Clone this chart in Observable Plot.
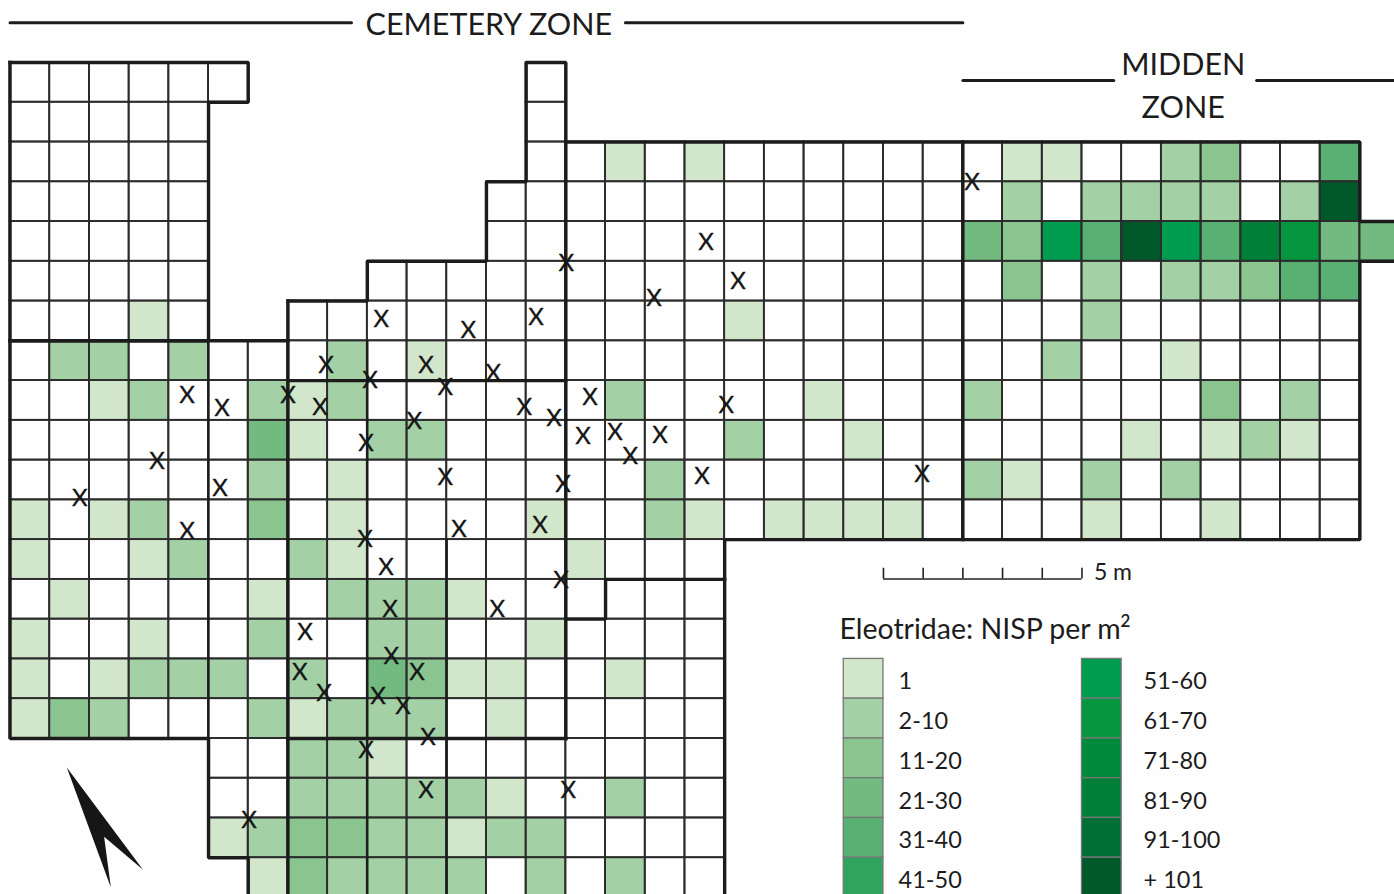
<!DOCTYPE html>
<html>
<head>
<meta charset="utf-8">
<script src="https://cdn.jsdelivr.net/npm/d3@7"></script>
<script src="https://cdn.jsdelivr.net/npm/@observablehq/plot@0.6"></script>
<style>
html,body{margin:0;padding:0;background:#fefefe;overflow:hidden}
svg{display:block}
</style>
</head>
<body>
<div id="chart"></div>
<script>
// Legend classes (NISP per m²)
const classLabels = ["1","2-10","11-20","21-30","31-40","41-50","51-60","61-70","71-80","81-90","91-100","+ 101"];
const classColors = ["#d2e6cb","#a3d0a5","#8ac48f","#72ba80","#58b072","#2fa45f","#009c50","#05963f","#008a3c","#007f38","#006f35","#00582b"];

// Excavated squares per row: [row, [startCol, endCol], ...]
const rowSpans = [
  [0,[0,6],[13,14]],[1,[0,5],[13,14]],[2,[0,5],[13,34]],[3,[0,5],[12,34]],[4,[0,5],[12,35]],
  [5,[0,5],[9,34]],[6,[0,5],[7,34]],[7,[0,34]],[8,[0,34]],[9,[0,34]],[10,[0,34]],[11,[0,34]],
  [12,[0,18]],[13,[0,18]],[14,[0,18]],[15,[0,18]],[16,[0,18]],
  [17,[5,18]],[18,[5,18]],[19,[5,18]],[20,[6,18]]
];

// Shaded squares per row: [row, [col, class number 1-12], ...]
const shadedRows = [
  [2,[15,1],[17,1],[25,1],[26,1],[29,2],[30,3],[33,5]],
  [3,[25,2],[27,2],[28,2],[29,2],[30,2],[32,2],[33,12]],
  [4,[24,4],[25,3],[26,7],[27,5],[28,12],[29,7],[30,5],[31,10],[32,8],[33,4],[34,4]],
  [5,[25,3],[27,2],[29,2],[30,2],[31,3],[32,5],[33,5]],
  [6,[3,1],[18,1],[27,2]],
  [7,[1,2],[2,2],[4,2],[8,2],[10,1],[26,2],[29,1]],
  [8,[2,1],[3,2],[6,2],[7,1],[8,2],[15,2],[20,1],[24,2],[30,3],[32,2]],
  [9,[6,4],[7,1],[9,2],[10,2],[18,2],[21,1],[28,1],[30,1],[31,2],[32,1]],
  [10,[6,2],[8,1],[16,2],[24,2],[25,1],[27,2],[29,2]],
  [11,[0,1],[2,1],[3,2],[6,3],[8,1],[13,1],[16,2],[17,1],[19,1],[20,1],[21,1],[22,1],[27,1],[30,1]],
  [12,[0,1],[3,1],[4,2],[7,2],[8,1],[14,1]],
  [13,[1,1],[6,1],[8,2],[9,2],[10,2],[11,1]],
  [14,[0,1],[3,1],[6,2],[9,2],[10,2],[13,1]],
  [15,[0,1],[2,1],[3,2],[4,2],[5,2],[7,2],[9,4],[10,3],[11,1],[12,1],[15,1]],
  [16,[0,1],[1,3],[2,2],[6,2],[7,1],[8,2],[9,2],[10,2],[12,1]],
  [17,[7,2],[8,2],[9,1]],
  [18,[7,2],[8,2],[9,2],[10,2],[11,2],[12,1],[15,2]],
  [19,[5,1],[6,2],[7,3],[8,3],[9,2],[10,2],[11,1],[12,2],[13,2]],
  [20,[6,1],[7,3],[8,2],[9,2],[10,2],[11,2],[13,2],[15,2]]
];

// Find spots marked X, in grid units
const findCols = [24.23,17.53,18.34,14.01,16.22,9.35,11.54,13.25,7.96,10.48,9.07,10.96,12.17,4.46,5.34,7.00,7.81,10.18,12.95,13.70,14.61,18.04,14.43,15.24,16.37,15.62,8.97,3.70,5.29,10.96,13.93,17.43,22.97,1.76,4.46,11.31,13.35,8.94,9.47,13.88,9.57,12.27,7.43,9.60,10.25,7.30,7.91,9.27,9.90,10.53,8.97,10.48,14.06,6.02];
const findRows = [2.99,4.50,5.48,5.03,5.91,6.44,6.72,6.39,7.60,7.60,7.97,8.15,7.80,8.35,8.68,8.35,8.65,9.00,8.65,8.93,8.40,8.60,9.38,9.28,9.36,9.88,9.56,10.01,10.69,10.41,10.59,10.39,10.34,10.94,11.77,11.72,11.62,11.97,12.68,13.00,13.73,13.73,14.31,14.91,15.32,15.32,15.84,15.92,16.17,16.95,17.28,18.28,18.28,19.04];

// Heavy lines, as paths of [col, row]
const outlinePaths = [
  [[0,0],[6,0],[6,1],[5,1],[5,7],[0,7]],
  [[0,0],[0,17],[5,17],[5,20],[6,20],[6,21]],
  [[0,7],[7,7]],
  [[7,6],[9,6],[9,5],[12,5],[12,3],[13,3],[13,0],[14,0],[14,17]],
  [[14,2],[34,2],[34,4],[35,4]],
  [[35,5],[34,5],[34,12],[18,12],[18,21]],
  [[7,6],[7,21]],
  [[7,8],[14,8]],
  [[7,17],[14,17]],
  [[18,13],[15,13],[15,14],[14,14]],
  [[24,2],[24,12]]
];
const mediumPaths = [ [[5,7],[5,17]], [[9,7],[9,21]], [[11,12],[11,21]] ];

// Scale bar, in grid units
const scaleCols = [22,23,24,25,26,27];
const scaleBaseRow = 12.99, scaleTopRow = 12.72;

// North arrow, in grid units
const arrowShape = [[1.43,17.73],[3.35,20.30],[2.37,19.47],[2.54,20.75]];

// Zone headings
const zoneLines = [
  [[0,-1],[8.6,-1]], [[15.5,-1],[24,-1]],
  [[24,0.45],[27.8,0.45]], [[31.4,0.45],[35,0.45]]
];
const headings = [
  {text:"CEMETERY ZONE", col:12.06, row:-0.94},
  {text:"MIDDEN", col:29.55, row:0.08},
  {text:"ZONE", col:29.55, row:1.14}
];

const cells = rowSpans.flatMap(([row, ...spans]) => spans.flatMap(([a, b]) =>
  d3.range(a, b).map(col => ({col, row}))));
const shaded = shadedRows.flatMap(([row, ...items]) => items.map(([col, cls]) => ({col, row, label: classLabels[cls - 1]})));
const finds = findCols.map((col, i) => ({col, row: findRows[i]}));
const legendItems = classLabels.map((label, i) => ({label, col: i < 6 ? 21 : 27, row: 15 + (i % 6), textCol: i < 6 ? 22.38 : 28.55}));
const toLine = paths => paths.flatMap((p, z) => p.map(([col, row]) => ({col, row, z})));

const FONT = "Lato, 'Open Sans', sans-serif";
const INK = "#1c1c1c";

const plot = Plot.plot({
  width: 1394, height: 894,
  margin: 0,
  style: {background: "#fefefe", fontFamily: FONT},
  x: {domain: [-0.24, 34.872], range: [0, 1394], axis: null},
  y: {domain: [-1.559, 20.925], range: [0, 894], axis: null},
  color: {type: "ordinal", domain: classLabels, range: classColors},
  marks: [
    Plot.rect(cells, {x1: "col", x2: d => d.col + 1, y1: "row", y2: d => d.row + 1, fill: "#fefefe", inset: 0}),
    Plot.rect(shaded, {x1: "col", x2: d => d.col + 1, y1: "row", y2: d => d.row + 1, fill: "label", inset: 0}),
    Plot.rect(cells, {x1: "col", x2: d => d.col + 1, y1: "row", y2: d => d.row + 1, fill: "none", stroke: "#2b2b2b", strokeWidth: 1.8, inset: 0}),
    Plot.line(toLine(mediumPaths), {x: "col", y: "row", z: "z", stroke: INK, strokeWidth: 2.3}),
    Plot.line(toLine(outlinePaths), {x: "col", y: "row", z: "z", stroke: INK, strokeWidth: 3.4, strokeLinejoin: "miter", strokeLinecap: "square"}),
    Plot.line(toLine(zoneLines), {x: "col", y: "row", z: "z", stroke: INK, strokeWidth: 3}),
    Plot.text(headings, {x: "col", y: "row", text: "text", fontSize: 30.5, fill: INK, textAnchor: "middle", lineAnchor: "middle"}),
    Plot.text(finds, {x: "col", y: "row", text: () => "X", fontSize: 24, fill: "#161616", stroke: "#161616", strokeWidth: 0.3, dy: 1, textAnchor: "middle", lineAnchor: "middle"}),
    Plot.ruleY([scaleBaseRow], {x1: scaleCols[0], x2: scaleCols[5], stroke: "#222", strokeWidth: 1.6}),
    Plot.ruleX(scaleCols, {x: d => d, y1: scaleTopRow, y2: scaleBaseRow, stroke: "#222", strokeWidth: 1.6}),
    Plot.text(["5 m"], {x: 27.3, y: 12.83, text: d => d, fontSize: 23, fill: INK, textAnchor: "start", lineAnchor: "middle"}),
    Plot.rect(legendItems, {x1: "col", x2: d => d.col + 1, y1: "row", y2: d => d.row + 1, fill: "label", stroke: "#777", strokeWidth: 1.3}),
    Plot.text(legendItems, {x: "textCol", y: d => d.row + 0.575, text: "label", fontSize: 23.5, fill: INK, textAnchor: "start", lineAnchor: "middle"}),
    Plot.text(["Eleotridae: NISP per m"], {x: 20.89, y: 14.27, text: d => d, fontSize: 28.5, fill: INK, textAnchor: "start", lineAnchor: "middle"}),
    Plot.text(["2"], {x: 27.97, y: 14.07, text: d => d, fontSize: 17, fontWeight: 600, fill: INK, textAnchor: "start", lineAnchor: "middle"}),
    Plot.line(arrowShape.map(([col, row]) => ({col, row})).concat([{col: arrowShape[0][0], row: arrowShape[0][1]}]), {x: "col", y: "row", fill: "#161616", stroke: "none"})
  ]
});
document.getElementById("chart").appendChild(plot);
</script>
</body>
</html>
